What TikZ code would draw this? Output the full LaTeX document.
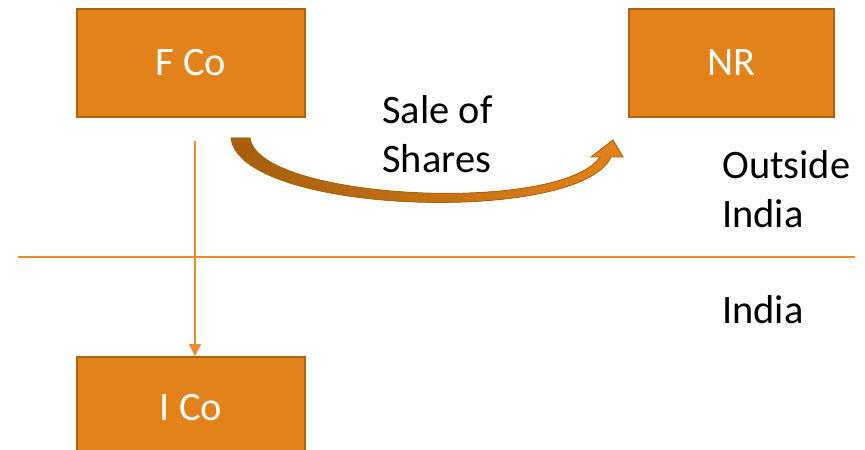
\documentclass[tikz,border=0pt]{standalone}
\usepackage{fontspec}
\setmainfont{Carlito}
\usetikzlibrary{positioning,arrows.meta}
\definecolor{boxorange}{HTML}{E3821A}
\definecolor{boxedge}{HTML}{AE640F}
\definecolor{lineorange}{HTML}{EC8A2C}
\definecolor{arrowbrown}{HTML}{A55E0E}
\tikzstyle{obox}=[rectangle, draw=boxedge, fill=boxorange, line width=1.2pt,
                  minimum height=21.6mm, minimum width=45.6mm, inner sep=2pt,
                  text=white, font=\fontsize{23}{28}\selectfont]
\tikzstyle{plain}=[align=left, inner sep=0pt, font=\fontsize{23}{28}\selectfont]
\tikzstyle{pline}=[lineorange, line width=1.1pt]
\tikzstyle{parrow}=[lineorange, line width=0.9pt, -{Triangle[length=2.4mm, width=2.4mm]}]

\begin{document}
\begin{tikzpicture}[x=0.2mm, y=-0.2mm]
\useasboundingbox (0,0) rectangle (865,450);

\node (FCo) [obox] at (191,63) {F Co};
\node (NR) [obox, minimum width=41mm, right=6.44cm of FCo] {NR};
\node (ICo) [obox, minimum height=20mm, below=4.76cm of FCo] {I Co};

% border between the two sides
\coordinate (westend) at (18,257);
\coordinate (eastend) at (855,257);
\draw[pline] (westend) -- (eastend);

\draw[parrow, shorten <=4.6mm] ([xshift=0.8mm]FCo.south) -- ([xshift=0.8mm]ICo.north);

% curved transfer arrow, thin at the head
\fill[left color=arrowbrown, right color=boxorange, draw=boxedge, line width=0.5pt]
  (231,138) -- (250,138) .. controls (258,200) and (560,215) .. (600,157)
  -- (591,157) -- (613,140) -- (623,157) -- (611,157)
  .. controls (580,225) and (240,215) .. (231,138) -- cycle;

\node (sale) [plain, anchor=north west] at (382,95) {Sale of\\Shares};
\node (outside) [plain, anchor=north west] at (722,150) {Outside\\India};
\node (india) [plain, anchor=north west] at (722,295) {India};

\end{tikzpicture}
\end{document}
